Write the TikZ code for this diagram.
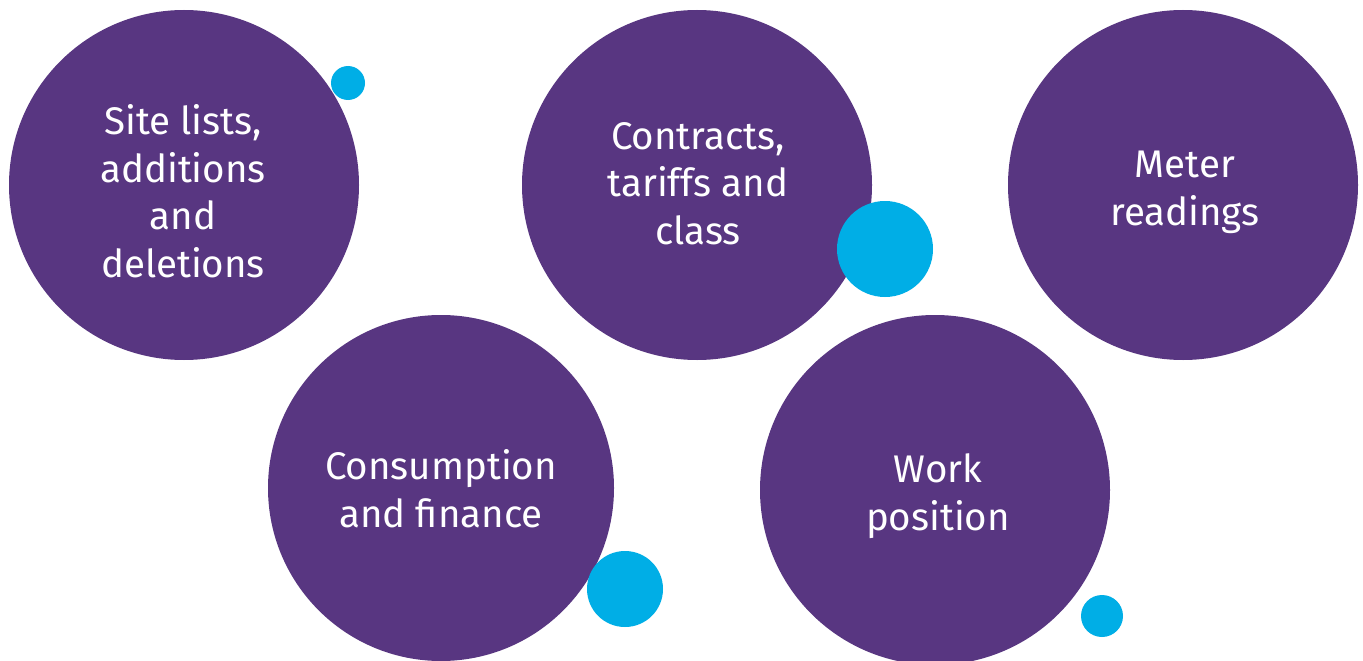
\documentclass[tikz,border=0pt]{standalone}
\usepackage{fontspec}
\setmainfont{Fira Sans}
\definecolor{plum}{HTML}{583681}
\definecolor{sky}{HTML}{00AEE6}
\begin{document}
\begin{tikzpicture}[x=1pt,y=-1pt,
  bigdot/.style={circle,fill=plum,draw=none,inner sep=0pt,minimum size=#1},
  smalldot/.style={circle,fill=sky,draw=none,inner sep=0pt,minimum size=#1},
  caption/.style={text=white,align=center,inner sep=0pt,anchor=base,
    font=\fontsize{38.5}{47.5}\selectfont}]
  \useasboundingbox[fill=white] (0,0) rectangle (1363,661);
  % purple topic discs
  \node[bigdot=350pt] (c1) at (184,185) {};
  \node[bigdot=350pt] (c2) at (697,185) {};
  \node[bigdot=350pt] (c3) at (1183,185) {};
  \node[bigdot=346pt] (c4) at (441,488) {};
  \node[bigdot=350pt] (c5) at (935,490) {};
  % blue accent dots
  \node[smalldot=34pt] (d1) at (348,83) {};
  \node[smalldot=96pt] (d2) at (885,249) {};
  \node[smalldot=76pt] (d3) at (625,589) {};
  \node[smalldot=42pt] (d4) at (1102,616) {};
  % captions (anchored at the baseline of the last line)
  \node[caption] (t1) at (183,277) {Site lists,\\additions\\and\\deletions};
  \node[caption] (t2) at (698,244) {Contracts,\\tariffs and\\class};
  \node[caption] (t3) at (1185,225) {Meter\\readings};
  \node[caption] (t4) at (441,527) {Consumption\\and finance};
  \node[caption] (t5) at (938,530) {Work\\position};
\end{tikzpicture}
\end{document}
